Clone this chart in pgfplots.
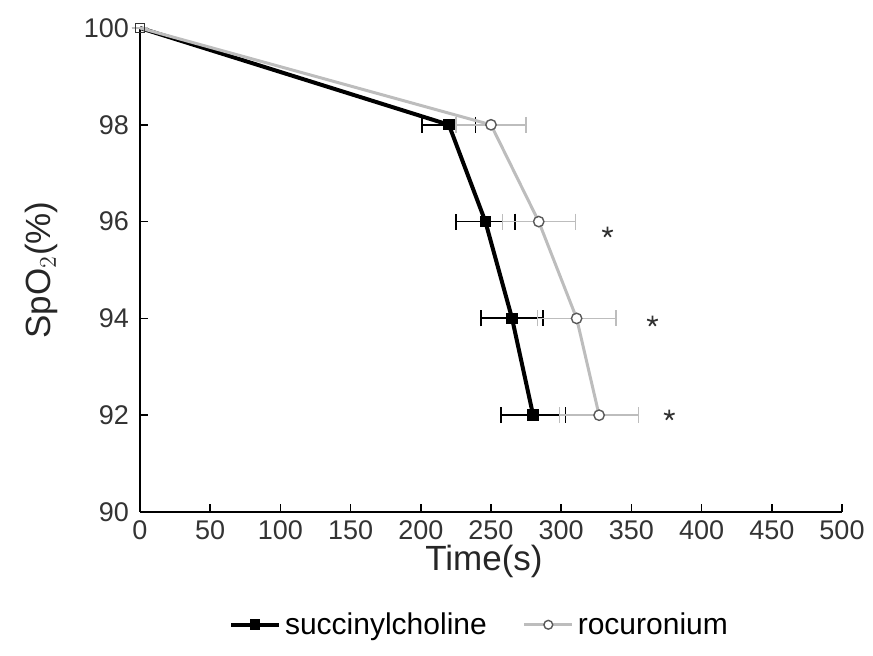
\documentclass[border=0pt]{standalone}
\usepackage{fontspec}
\setmainfont{Liberation Sans}
\usepackage{pgfplots}
\pgfplotsset{compat=1.18}

% SpO2 versus time: mean time (s) with SD error bars
\pgfplotstableread{
t    s    e
0    100  0
220  98   19
246  96   21
265  94   22
280  92   23
}\succ
\pgfplotstableread{
t    s    e
0    100  0
250  98   25
284  96   26
311  94   28
327  92   28
}\rocu
\pgfplotstableread{
t    s
333  95.78
365  93.94
377  92.0
}\sig

\definecolor{rocgray}{gray}{0.74}

\begin{document}
\begin{tikzpicture}
\begin{axis}[
  scale only axis,
  width=351pt, height=242pt,
  xmin=0, xmax=500, ymin=90, ymax=100,
  axis lines*=left,
  axis line style={line width=0.9pt},
  tick align=inside,
  major tick length=4pt,
  every tick/.style={line width=0.8pt, black},
  xtick={0,50,...,500},
  ytick={90,92,...,100},
  /pgf/number format/assume math mode=true,
  tick label style={font=\fontsize{13.5}{15}\selectfont, text=black!80},
  xticklabel style={yshift=-1pt},
  yticklabel style={xshift=-2pt},
  xlabel={Time(s)},
  ylabel={SpO$_2$(\%)},
  label style={font=\fontsize{17.5}{20}\selectfont, text=black!85},
  xlabel style={at={(axis description cs:0.49,-0.103)}, anchor=center},
  ylabel style={at={(axis description cs:-0.14,0.5)}, anchor=center},
  clip=false,
  legend style={draw=none, fill=none, font=\fontsize{15}{17}\selectfont,
    at={(axis description cs:0.485,-0.233)}, anchor=center, legend columns=2,
    /tikz/every even column/.append style={column sep=16pt}},
  legend cell align=left,
  legend image code/.code={
    \draw[#1] (0pt,0pt) -- (24pt,0pt);
    \draw[#1, only marks] plot coordinates {(12pt,0pt)};
  },
]
% legend keys
\addlegendimage{black, line width=2pt, mark=square*, mark size=2.4pt,
  mark options={line width=0.5pt}}
\addlegendentry{succinylcholine}
\addlegendimage{rocgray, line width=1.5pt, mark=*, mark size=2.2pt,
  mark options={fill=white, draw=black!65, line width=0.7pt}}
\addlegendentry{rocuronium}
% succinylcholine: black line with filled squares
\addplot[black, line width=2pt, mark=square*, mark size=2.6pt,
  mark indices={2,3,4,5}, forget plot,
  mark options={line width=0.5pt},
  error bars/.cd, x dir=both, x explicit,
  error mark options={rotate=90, mark size=4pt, black, line width=0.8pt},
  error bar style={black, line width=0.9pt}]
  table[x=t, y=s, x error=e] {\succ};
% rocuronium: light grey line with open circles
\addplot[rocgray, line width=1.5pt, mark=*, mark size=2.6pt,
  mark indices={2,3,4,5}, forget plot,
  mark options={fill=white, draw=black!65, line width=0.7pt},
  error bars/.cd, x dir=both, x explicit,
  error mark options={rotate=90, mark size=4pt, rocgray, line width=0.7pt},
  error bar style={rocgray, line width=0.8pt}]
  table[x=t, y=s, x error=e] {\rocu};
% starting point
\addplot[only marks, mark=square, mark size=2.2pt, black!80,
  mark options={fill=white, line width=0.6pt}, forget plot]
  coordinates {(0,100)};
% significance markers
\addplot[only marks, mark=star, mark size=2.8pt, black!80, line width=0.9pt,
  forget plot] table[x=t, y=s] {\sig};
\end{axis}
\path ([shift={(-70pt,-72pt)}]current axis.south west)
  rectangle ([shift={(366.5pt,256pt)}]current axis.south west);
\end{tikzpicture}
\end{document}
